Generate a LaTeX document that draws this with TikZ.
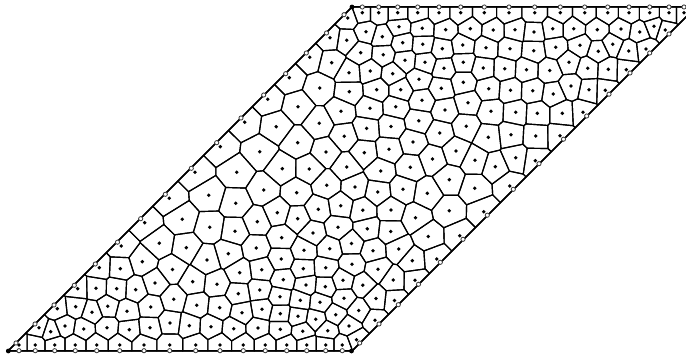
\documentclass[tikz,border=0pt]{standalone}
\newcount\vorN \newcount\vorI \newcount\vorJ \newcount\vorNx \newcount\vorNy
\newdimen\vorAx \newdimen\vorAy \newdimen\vorBx \newdimen\vorBy
\newdimen\vorFx \newdimen\vorFy \newdimen\vorFa \newdimen\vorFb
\newdimen\vorMx \newdimen\vorMy \newdimen\vorDx \newdimen\vorDy
\newdimen\vorAdx \newdimen\vorAdy \newdimen\vorMax \newdimen\vorCx \newdimen\vorCy
\def\vorS#1,#2;{\global\advance\vorN 1
  \expandafter\xdef\csname vorx\the\vorN\endcsname{#1pt}%
  \expandafter\xdef\csname vory\the\vorN\endcsname{\the\dimexpr356pt-#2pt\relax}}
\def\vorRow#1#2{\foreach \vorq in {#1}{\expandafter\vorRowB\expandafter{\vorq}{#2}}}
\def\vorRowB#1#2{\vorS#1,#2;}
% sites
\vorRow{19,35.3,54.7,75.3,96.7,119.7,144,169.7,195.7,220,243.3,265.3,286.7,306.7,325.7,342.3}{345}
\vorRow{362.3,378.7,397.7,417.7,439,460.7,484.3,509,534.7,560.3,584.7,607.7,629,649.7,669,684}{12.7}
\def\vorL#1{\foreach \vorp/\vorr in {#1}{\edef\vort{\noexpand\vorS\vorp,\vorr;}\vort}}
\vorL{347.7/18,356.5/339.7,57.3/308.7,
39/327.7,50.7/331.7,65/326,83.7/329,107/327.7,129.3/329.7,150/327.7,170/323,
75.7/306.7,92/312.3,107.7/306.3,127/311.3,150.7/307,173.7/299.3,
77.7/288.7,96/288.3,116.7/288.7,135.7/289.7,155/283,172.5/269.5,
99.3/267.7,120.3/268.7,142.3/261.7,121.3/246,159.3/243.2,
186.3/247.7,207/260,228.3/253.7,256.3/248,281.7/237.7,304/250.3,329.7/248.7,351.5/243.5,281.3/259,
192.7/281.7,217/284.3,239.7/272.7,261.7/269.7,283.3/279.7,303.3/268.7,325.7/267.7,352/264.2,343/280.3,306/285,325.3/286.7,362.8/285.2,
238.3/293.7,259.7/290,280/296.7,300.3/300.3,320/302.3,344/298.3,
196.7/305.3,219.7/307.7,242/312.7,262/309.3,280.3/313.7,298/316.3,315.7/319.3,335.7/314.7,358.7/310.5,
189.3/325.7,211/326.7,233.7/328.7,258/328,280.3/329.3,302.7/331.3,327.7/330.7,349/326,
244.7/122.2,220.3/146.7,259.8/151.8,195/172.3,236.7/172.3,263.7/190,169.3/198.3,208.7/195.3,235.7/203.3,144.7/222.7,182.3/219.3,209.7/227.3,235/231.3,257.3/221.7,
276.2/126.7,319.2/123.3,366.7/128.4,391/126.5,418.8/120.8,344.3/136.3,413/142,297.7/142.7,326/152,364.3/152.7,389/149.3,432.5/159,282.3/168.7,309.3/169,346.7/167,380.7/171,410.3/167.3,296.7/192.7,326.7/185.3,355/187,377.7/192,403/189.3,427.3/193.3,277.3/212.7,318.3/209.3,340.7/205.7,362.8/210.2,391/210,415.5/217.8,297.7/218.7,338/227.3,367.3/228.8,390.7/231.5,313/233,428.3/236.5,
449.2/210.8,483.7/211.7,459.7/235.7,373/250.7,398.7/249,436.7/259,412.3/260.7,378/269.3,393.3/280,415/280.3,376/298.5,394.5/300.5,375/320.3,
466.2/126.3,439.7/133,488.3/137.3,511/134.7,535.7/136,560/135.7,456/151,475/160.3,515.7/157.7,495.3/166.7,535.3/160.7,449.3/179.7,474.7/188.3,509.7/186,
309.7/57.3,331.7/62.7,360.7/52.7,383.2/54.8,289.3/77.7,349/72.7,370.3/71,392.7/73.7,267.7/99.3,319.7/88,349.3/91.7,376.7/89.7,298/106.7,341/111.3,370/108.3,395.7/106.8,
405/60.3,425/62.3,463.3/62.3,444/68.3,483.3/68,504.7/68.7,526.5/69.7,549.7/70.5,419/79.3,463.3/82.3,488.7/88.7,510.5/90.2,532.7/90.8,553.3/94,400.7/89.7,441.3/88.3,422/100.3,445/110,468/102.7,491/111.3,515.7/112.3,537.3/113.3,
366/31.7,399/26.7,422.3/28.3,445.7/29.7,470.3/28.7,493.3/30,382.3/36.7,346.7/40.3,402.7/42.7,422.7/44.3,442.3/48.7,462.7/45,486/47.7,330/37.7,
515/29.7,534/32,552.7/28.7,573.7/28.7,597.3/29.7,621/29,639.7/32,654/26.3,665.3/30,510/48.7,533.7/50.7,555.7/47.3,580/45.3,598.3/51.3,612.7/44.3,628.7/51,646/49,569/62.3,587.7/68.3,608.3/69.3,626.3/69.7,571/86,589/89.8,605.3/90.3,562.3/113.3,583/112.3}
% half-plane clipping of a polygon (Sutherland-Hodgman) with TeX dimensions
\def\vorEval#1#2#3{#3=\dimexpr(#1-\vorMx)*\vorNx/65536+(#2-\vorMy)*\vorNy/65536\relax}
\def\vorAdd#1#2{\edef\vorNew{\unexpanded\expandafter{\vorNew}\noexpand\vorV{\the#1}{\the#2}}}
\def\vorEdge{\vorEval\vorBx\vorBy\vorFb
  \ifdim\vorFa>0pt \else\vorAdd\vorAx\vorAy\fi
  \ifdim\vorFa>0pt \ifdim\vorFb>0pt \else\vorCut\fi
  \else\ifdim\vorFb>0pt \vorCut\fi\fi}
\def\vorCut{\vorCx=\dimexpr\vorAx+(\vorBx-\vorAx)*\number\vorFa/\numexpr\number\vorFa-\number\vorFb\relax\relax
  \vorCy=\dimexpr\vorAy+(\vorBy-\vorAy)*\number\vorFa/\numexpr\number\vorFa-\number\vorFb\relax\relax
  \vorAdd\vorCx\vorCy}
\def\vorFirst#1#2{\vorAx=#1\relax\vorAy=#2\relax\vorFx=\vorAx\vorFy=\vorAy
  \vorEval\vorAx\vorAy\vorFa\let\vorV\vorNext}
\def\vorNext#1#2{\vorBx=#1\relax\vorBy=#2\relax\vorEdge\vorAx=\vorBx\vorAy=\vorBy\vorFa=\vorFb}
\def\vorClip{\def\vorNew{}\let\vorV\vorFirst\vorPoly
  \vorBx=\vorFx\vorBy=\vorFy\vorEdge\let\vorPoly\vorNew}
\def\vorTest{%
  \vorDx=\dimexpr\csname vorx\the\vorJ\endcsname-\vorPx\relax
  \vorDy=\dimexpr\csname vory\the\vorJ\endcsname-\vorPy\relax
  \vorAdx=\ifdim\vorDx<0pt -\fi\vorDx
  \vorAdy=\ifdim\vorDy<0pt -\fi\vorDy
  \ifdim\vorAdx<50pt \ifdim\vorAdy<50pt
    \vorMax=\ifdim\vorAdx>\vorAdy\vorAdx\else\vorAdy\fi
    \vorNx=\numexpr\number\vorDx*65536/\number\vorMax\relax
    \vorNy=\numexpr\number\vorDy*65536/\number\vorMax\relax
    \vorMx=\dimexpr\vorPx+\vorDx/2\relax
    \vorMy=\dimexpr\vorPy+\vorDy/2\relax
    \vorClip
  \fi\fi}
\def\vorNeigh{\ifnum\vorJ>\vorN\else
  \ifnum\vorJ=\vorI\else\vorTest\fi
  \advance\vorJ 1 \expandafter\vorNeigh\fi}
\def\vorPFirst#1#2{\edef\vorPth{(#1,#2)}\let\vorV\vorPNext}
\def\vorPNext#1#2{\edef\vorPth{\vorPth -- (#1,#2)}}
\def\vorCell{%
  \edef\vorPx{\csname vorx\the\vorI\endcsname}%
  \edef\vorPy{\csname vory\the\vorI\endcsname}%
  \def\vorPoly{\vorV{8pt}{5pt}\vorV{352pt}{5pt}\vorV{696pt}{349pt}\vorV{352pt}{349pt}}%
  \vorJ=1 \vorNeigh
  \let\vorV\vorPFirst\vorPoly
  \edef\vorDo{\noexpand\draw[vorcell] \vorPth -- cycle;}\vorDo
  \fill[sitedot] (\vorPx,\vorPy) circle[radius=1.9pt];}
\def\vorCells{\ifnum\vorI>\vorN\else\vorCell\advance\vorI 1 \expandafter\vorCells\fi}
\tikzset{
  vorcell/.style={draw=black,line width=1.15pt,line join=round},
  sitedot/.style={fill=black},
  vorframe/.style={draw=black,line width=1.5pt,line join=round},
  openmark/.style={draw=black!75,fill=white,line width=0.85pt},
  cornermark/.style={fill=black}
}
\begin{document}
\begin{tikzpicture}[x=1pt,y=1pt]
\useasboundingbox (0,0) rectangle (686,356);
\clip (0,0) rectangle (686,356);
\vorI=1 \vorCells
\draw[vorframe] (8,5) -- (352,5) -- (696,349) -- (352,349) -- cycle;
\foreach \vorp in {19,35.3,54.7,75.3,96.7,119.7,144,169.7,195.7,220,243.3,265.3,286.7,306.7,325.7,342.3}
  \filldraw[openmark] (\vorp,5.3) circle[radius=2.1];
\foreach \vorp in {362.3,378.7,397.7,417.7,439,460.7,484.3,509,534.7,560.3,584.7,607.7,629,649.7,669,684}
  \filldraw[openmark] (\vorp,349) circle[radius=2.1];
\foreach \vorp/\vorr in {16/343,35/324,54/305,74.3/285.3,95.3/264,117.5/242.2,140.7/218.7,165.3/194.3,191.3/168.3,216.7/142.7,241/118,263.7/95,285.7/73.7,306.3/53,326.5/33,344/14.7,
  359.7/343,379/324,398.3/304.7,418.5/284.3,440.3/262.3,463/239.3,487.3/215.2,513.3/189.3,539/163.7,563.5/139.2,586.7/116,609/94.2,630/73,649.7/53,669/34}
  \filldraw[openmark] (\vorp,356-\vorr) circle[radius=2.1];
\fill[cornermark] (8.3,5) circle[radius=2.4];
\fill[cornermark] (351.5,5) circle[radius=2.4];
\fill[cornermark] (352,349) circle[radius=2.4];
\end{tikzpicture}
\end{document}
